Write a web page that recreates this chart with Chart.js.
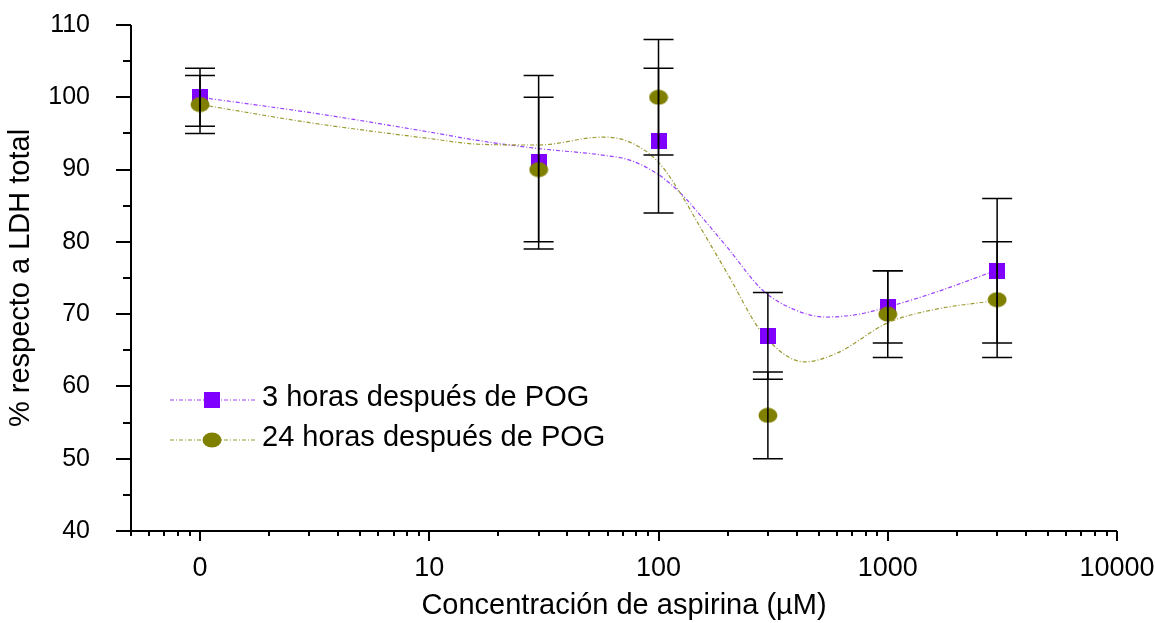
<!DOCTYPE html>
<html>
<head>
<meta charset="utf-8">
<script src="https://cdn.jsdelivr.net/npm/chart.js@4.4.0/dist/chart.umd.min.js"></script>
<style>
  html, body { margin: 0; padding: 0; background: #fff; }
  #wrap { width: 1155px; height: 623px; }
</style>
</head>
<body>
<div id="wrap"><canvas id="ldhChart" width="1155" height="623"></canvas></div>
<script>
// concentration 1 is the point labelled "0" on the log axis
const concentrations = [1, 30, 100, 300, 1000, 3000];
const ldh3h = [100, 91, 94, 67, 71, 76];
const err3h = [4, 12, 10, 6, 5, 10];
const ldh24h = [99, 90, 100, 56, 70, 72];
const err24h = [4, 10, 8, 6, 6, 8];

// smoothed curves
const fitX3h = [1, 3, 10, 16.5, 30, 57, 75, 100, 127, 151, 200, 285, 400, 542, 750, 1000, 1574, 3000];
const fitY3h = [100, 97.9, 95.2, 94.0, 92.9, 92.0, 91.3, 89.3, 86.5, 83.8, 79.2, 73.3, 70.5, 69.6, 70.0, 71.0, 72.9, 76.1];
const fitX24h = [1, 3, 10, 16.5, 30, 57, 75, 100, 127, 151, 200, 285, 434, 600, 1000, 1574, 3000];
const fitY24h = [99, 96.5, 94.3, 93.5, 93.4, 94.5, 93.8, 91.0, 86.3, 82.2, 75.6, 67.3, 63.4, 64.6, 68.8, 70.6, 71.9];

const xTickValues = [0.5, 0.6, 0.7, 0.8, 0.9,
  1, 2, 3, 4, 5, 6, 7, 8, 9,
  10, 20, 30, 40, 50, 60, 70, 80, 90,
  100, 200, 300, 400, 500, 600, 700, 800, 900,
  1000, 2000, 3000, 4000, 5000, 6000, 7000, 8000, 9000, 10000];
const xMajorLabels = { 1: "0", 10: "10", 100: "100", 1000: "1000", 10000: "10000" };

const FONT = "'Liberation Sans', Arial, Helvetica, sans-serif";
const PURPLE = "#8000ff";
const OLIVE = "#808000";

function makeSquare(color) {
  const c = document.createElement("canvas");
  c.width = 16; c.height = 16;
  const g = c.getContext("2d");
  g.fillStyle = color;
  g.fillRect(0, 0, 16, 16);
  return c;
}

function makeEllipse(color) {
  const c = document.createElement("canvas");
  c.width = 20; c.height = 16;
  const g = c.getContext("2d");
  g.fillStyle = color;
  g.beginPath();
  g.ellipse(10, 8, 9.5, 7.5, 0, 0, Math.PI * 2);
  g.fill();
  return c;
}

const squareMark = makeSquare(PURPLE);
const ellipseMark = makeEllipse(OLIVE);

function toPoints(xs, ys) {
  return xs.map((x, i) => ({ x: x, y: ys[i] }));
}

// axis lines and tick marks (major/minor lengths differ)
const axisTicks = {
  id: "axisTicks",
  afterDraw(chart) {
    const { ctx, chartArea, scales: { x, y } } = chart;
    ctx.save();
    ctx.strokeStyle = "#000";
    ctx.lineWidth = 2;
    ctx.beginPath();
    ctx.moveTo(chartArea.left, chartArea.top);
    ctx.lineTo(chartArea.left, chartArea.bottom);
    ctx.lineTo(chartArea.right, chartArea.bottom);
    x.ticks.forEach((t) => {
      const px = Math.round(x.getPixelForValue(t.value));
      const len = xMajorLabels[t.value] ? 10 : 5;
      ctx.moveTo(px, chartArea.bottom);
      ctx.lineTo(px, chartArea.bottom + len);
    });
    y.ticks.forEach((t) => {
      const py = Math.round(y.getPixelForValue(t.value));
      const len = t.value % 10 === 0 ? 15 : 8;
      ctx.moveTo(chartArea.left, py);
      ctx.lineTo(chartArea.left - len, py);
    });
    ctx.stroke();
    ctx.restore();
  },
};

const errorBars = {
  id: "errorBars",
  afterDatasetsDraw(chart) {
    const { ctx, scales: { x, y } } = chart;
    ctx.save();
    ctx.strokeStyle = "#000";
    ctx.lineWidth = 1.5;
    [[ldh3h, err3h], [ldh24h, err24h]].forEach(([vals, errs]) => {
      concentrations.forEach((c, i) => {
        const px = x.getPixelForValue(c);
        const top = y.getPixelForValue(vals[i] + errs[i]);
        const bot = y.getPixelForValue(vals[i] - errs[i]);
        ctx.beginPath();
        ctx.moveTo(px, top);
        ctx.lineTo(px, bot);
        ctx.moveTo(px - 15, top);
        ctx.lineTo(px + 15, top);
        ctx.moveTo(px - 15, bot);
        ctx.lineTo(px + 15, bot);
        ctx.stroke();
      });
    });
    ctx.restore();
  },
};

// legend with line + marker, placed inside the plot
const lineLegend = {
  id: "lineLegend",
  afterDraw(chart) {
    const ctx = chart.ctx;
    ctx.save();
    chart.data.datasets.forEach((ds) => {
      if (ds.legendY === undefined) return;
      const yy = ds.legendY;
      ctx.strokeStyle = ds.legendLine;
      ctx.lineWidth = 1.2;
      ctx.setLineDash([4, 2, 1, 2]);
      ctx.beginPath();
      ctx.moveTo(170, yy);
      ctx.lineTo(255, yy);
      ctx.stroke();
      ctx.setLineDash([]);
      const img = ds.pointStyle;
      ctx.drawImage(img, 212 - img.width / 2, yy - img.height / 2);
      ctx.fillStyle = "#000";
      ctx.font = "29px " + FONT;
      ctx.textBaseline = "middle";
      ctx.textAlign = "left";
      ctx.fillText(ds.label, 262, yy - 2);
    });
    ctx.restore();
  },
};

new Chart(document.getElementById("ldhChart").getContext("2d"), {
  type: "line",
  data: {
    datasets: [
      {
        label: "3 horas después de POG",
        data: toPoints(concentrations, ldh3h),
        showLine: false,
        pointStyle: squareMark,
        pointRadius: 8,
        order: 1,
        legendY: 400,
        legendLine: "#9a40ff",
      },
      {
        label: "24 horas después de POG",
        data: toPoints(concentrations, ldh24h),
        showLine: false,
        pointStyle: ellipseMark,
        pointRadius: 8,
        order: 0,
        legendY: 440,
        legendLine: "#9a9a30",
      },
      {
        label: "ajuste 3 h",
        data: toPoints(fitX3h, fitY3h),
        borderColor: "#9a40ff",
        borderWidth: 1.2,
        borderDash: [4, 2, 1, 2],
        pointRadius: 0,
        cubicInterpolationMode: "monotone",
        order: 3,
      },
      {
        label: "ajuste 24 h",
        data: toPoints(fitX24h, fitY24h),
        borderColor: "#9a9a30",
        borderWidth: 1.2,
        borderDash: [4, 2, 1, 2],
        pointRadius: 0,
        cubicInterpolationMode: "monotone",
        order: 2,
      },
    ],
  },
  options: {
    responsive: false,
    animation: false,
    events: [],
    layout: { padding: { top: 25, right: 38, left: 0, bottom: 0 } },
    plugins: {
      legend: { display: false },
      tooltip: { enabled: false },
    },
    scales: {
      x: {
        type: "logarithmic",
        min: 0.5,
        max: 10000,
        grid: { display: false, drawTicks: false },
        border: { display: false },
        afterBuildTicks: (scale) => {
          scale.ticks = xTickValues.map((v) => ({ value: v }));
        },
        afterFit: (scale) => {
          scale.height = 92;
          scale.paddingLeft = 0;
          scale.paddingRight = 0;
        },
        ticks: {
          autoSkip: false,
          maxRotation: 0,
          padding: 21,
          color: "#000",
          font: { family: FONT, size: 27 },
          callback: (value) => xMajorLabels[value] || "",
        },
        title: {
          display: true,
          text: "Concentración de aspirina (µM)",
          color: "#000",
          padding: 0,
          font: { family: FONT, size: 29 },
        },
      },
      y: {
        min: 40,
        max: 110,
        grid: { display: false, drawTicks: false },
        border: { display: false },
        afterFit: (scale) => {
          scale.width = 131;
          scale.paddingTop = 0;
          scale.paddingBottom = 0;
        },
        ticks: {
          stepSize: 5,
          autoSkip: false,
          padding: 41,
          color: "#000",
          font: { family: FONT, size: 25 },
          callback: (value) => (value % 10 === 0 ? value : ""),
        },
        title: {
          display: true,
          text: "% respecto a LDH total",
          color: "#000",
          padding: { top: 4, bottom: 0 },
          font: { family: FONT, size: 29 },
        },
      },
    },
  },
  plugins: [axisTicks, errorBars, lineLegend],
});
</script>
</body>
</html>
